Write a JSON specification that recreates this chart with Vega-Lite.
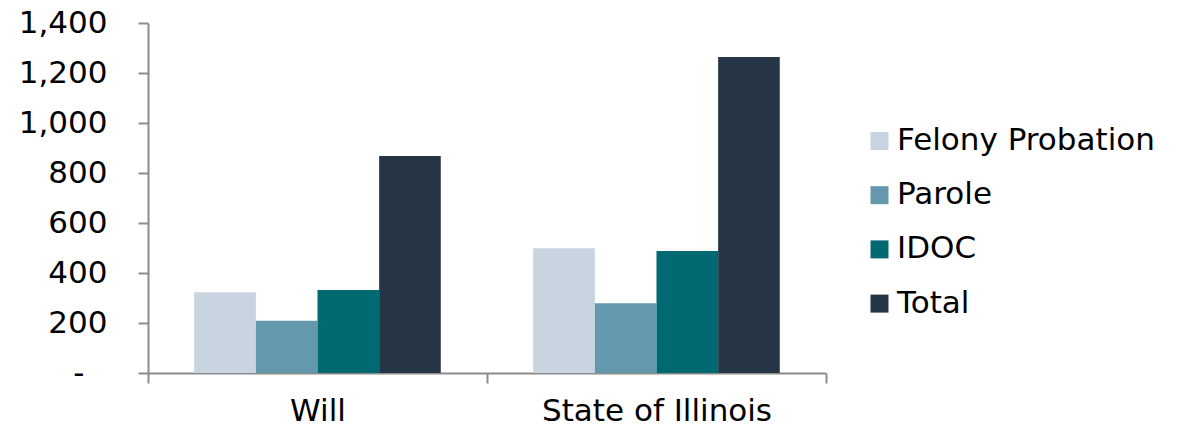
{
  "$schema": "https://vega.github.io/schema/vega-lite/v6.json",
  "width": 678,
  "height": 350,
  "autosize": "none",
  "padding": {"left": 148, "top": 23, "right": 356, "bottom": 58},
  "background": "white",
  "config": {"view": {"stroke": null}, "font": "DejaVu Sans"},
  "data": {
    "values": [
      {"area": "Will", "group": "Felony Probation", "count": 323},
      {"area": "Will", "group": "Parole", "count": 209},
      {"area": "Will", "group": "IDOC", "count": 332},
      {"area": "Will", "group": "Total", "count": 868},
      {"area": "State of Illinois", "group": "Felony Probation", "count": 499},
      {"area": "State of Illinois", "group": "Parole", "count": 279},
      {"area": "State of Illinois", "group": "IDOC", "count": 488},
      {"area": "State of Illinois", "group": "Total", "count": 1264}
    ]
  },
  "mark": "bar",
  "encoding": {
    "x": {
      "field": "area", "type": "nominal", "sort": ["Will", "State of Illinois"],
      "scale": {"paddingInner": 0, "paddingOuter": 0},
      "axis": {
        "title": null, "labelAngle": 0, "labelFontSize": 31, "labelColor": "#000000",
        "labelPadding": 13, "labelLimit": 400, "tickBand": "extent", "tickSize": 10, "tickWidth": 2,
        "tickColor": "#8c8c8c", "domainColor": "#8c8c8c", "domainWidth": 2
      }
    },
    "xOffset": {
      "field": "group", "type": "nominal",
      "sort": ["Felony Probation", "Parole", "IDOC", "Total"],
      "scale": {"paddingInner": 0, "paddingOuter": 0.75}
    },
    "y": {
      "field": "count", "type": "quantitative",
      "scale": {"domain": [0, 1400], "nice": false},
      "axis": {
        "title": null, "grid": false, "values": [0, 200, 400, 600, 800, 1000, 1200, 1400],
        "labelExpr": "datum.value == 0 ? '-' : format(datum.value, ',')",
        "labelFontSize": 31, "labelColor": "#000000",
        "labelPadding": {"condition": {"test": "datum.value === 0", "value": 54}, "value": 31},
        "tickSize": 10, "tickWidth": 2, "tickColor": "#8c8c8c",
        "domainColor": "#8c8c8c", "domainWidth": 2
      }
    },
    "color": {
      "field": "group", "type": "nominal",
      "scale": {
        "domain": ["Felony Probation", "Parole", "IDOC", "Total"],
        "range": ["#c8d4e0", "#6499ad", "#006971", "#253545"]
      },
      "legend": {
        "title": null, "orient": "none", "legendX": 716, "legendY": 102.5,
        "padding": 0, "symbolType": "square", "symbolSize": 324,
        "symbolStrokeWidth": 0, "labelFontSize": 31, "labelColor": "#000000",
        "labelOffset": 2, "rowPadding": 22.2, "labelLimit": 400
      }
    }
  }
}
